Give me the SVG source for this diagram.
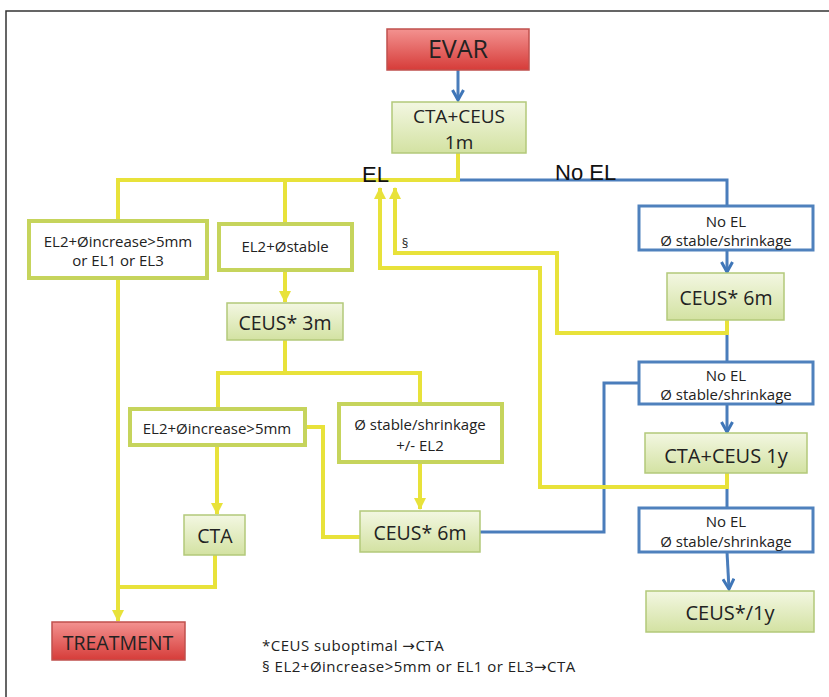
<svg xmlns="http://www.w3.org/2000/svg" width="829" height="697" viewBox="0 0 829 697">
<defs>
<linearGradient id="gGreen" x1="0" y1="0" x2="0" y2="1">
<stop offset="0" stop-color="#f3f7e2"/>
<stop offset="1" stop-color="#d3e2a2"/>
</linearGradient>
<linearGradient id="gRed" x1="0" y1="0" x2="0" y2="1">
<stop offset="0" stop-color="#f39290"/>
<stop offset="1" stop-color="#d63c39"/>
</linearGradient>
<marker id="arrY" markerUnits="userSpaceOnUse" markerWidth="14" markerHeight="14" viewBox="0 0 14 14" refX="12" refY="7" orient="auto">
<path d="M1,1 L13,7 L1,13 Z" fill="#e8e23a"/>
</marker>
<marker id="arrB" markerUnits="userSpaceOnUse" markerWidth="14" markerHeight="14" viewBox="0 0 14 14" refX="12" refY="7" orient="auto">
<path d="M2,1.5 L12,7 L2,12.5" fill="none" stroke="#3f76b8" stroke-width="3"/>
</marker>
</defs>
<style>
.frame{fill:none;stroke:#333;stroke-width:1.5}
.green{fill:url(#gGreen);stroke:#b3c97a;stroke-width:1.5}
.red{fill:url(#gRed);stroke:#c0504d;stroke-width:1.5}
.ybox{fill:#fff;stroke:#c6d45c;stroke-width:4}
.bbox{fill:#fff;stroke:#4f81bd;stroke-width:3}
.yl{fill:none;stroke:#e8e23a;stroke-width:4}
.bl{fill:none;stroke:#4a7dbb;stroke-width:3}
text{font-family:"Open Sans","Noto Sans","DejaVu Sans",sans-serif;fill:#222;text-anchor:middle}
.big{font-size:19.5px}
.sm{font-size:15px}
.lbl{font-family:"Liberation Sans",Arial,sans-serif;font-size:22px;text-anchor:start;fill:#111}
.note{font-size:15px;text-anchor:start;letter-spacing:0.5px}
</style>
<rect x="0" y="0" width="829" height="697" fill="#fff"/>
<path class="frame" d="M6,697 V11 H829"/>

<g id="connectors">
<path class="bl" d="M458,70 V100" marker-end="url(#arrB)"/>
<path class="bl" d="M458,180 H727 V206"/>
<path class="bl" d="M727,250 V272" marker-end="url(#arrB)"/>
<path class="bl" d="M727,333 V362"/>
<path class="bl" d="M727,404 V432" marker-end="url(#arrB)"/>
<path class="bl" d="M727,487 V508"/>
<path class="bl" d="M727,552 L729,589" marker-end="url(#arrB)"/>
<path class="bl" d="M480,532 H604 V383 H639"/>
<path class="yl" d="M458,153 V180 H118 V220"/>
<path class="yl" d="M285,180 V223"/>
<path class="yl" d="M285,270 V302" marker-end="url(#arrY)"/>
<path class="yl" d="M285,340 V373"/>
<path class="yl" d="M218,408 V373 H420 V404"/>
<path class="yl" d="M217,445 V514" marker-end="url(#arrY)"/>
<path class="yl" d="M305,427 H323 V537 H360"/>
<path class="yl" d="M420,462 V509" marker-end="url(#arrY)"/>
<path class="yl" d="M215,555 V587 H118"/>
<path class="yl" d="M118,278 V621" marker-end="url(#arrY)"/>
<path class="yl" d="M727,320 V333 H557 V253 H395 V188" marker-end="url(#arrY)"/>
<path class="yl" d="M727,473 V487 H540 V268 H380 V188" marker-end="url(#arrY)"/>
</g>

<g id="label-el"><text class="lbl" x="362" y="182">EL</text></g>
<g id="label-noel"><text class="lbl" x="555" y="180">No EL</text></g>
<g id="label-sect"><text x="405" y="248" style="font-size:13px">§</text></g>

<g id="evar">
<rect class="red" x="387" y="29" width="142" height="41"/>
<text x="458" y="58" style="font-size:25px">EVAR</text>
</g>
<g id="cta-ceus-1m">
<rect class="green" x="392" y="102" width="134" height="51"/>
<text x="459" y="123" style="font-size:19px">CTA+CEUS</text>
<text x="459" y="149" style="font-size:19px">1m</text>
</g>
<g id="el-increase-left">
<rect class="ybox" x="29" y="221" width="178" height="57"/>
<text class="sm" x="118" y="247">EL2+Øincrease&gt;5mm</text>
<text class="sm" x="118" y="266">or EL1 or EL3</text>
</g>
<g id="el2-stable">
<rect class="ybox" x="219" y="224" width="133" height="46"/>
<text class="sm" x="285" y="252">EL2+Østable</text>
</g>
<g id="ceus-3m">
<rect class="green" x="227" y="303" width="116" height="37"/>
<text class="big" x="285" y="330">CEUS* 3m</text>
</g>
<g id="el2-increase">
<rect class="ybox" x="130" y="409" width="175" height="36"/>
<text class="sm" x="217" y="434">EL2+Øincrease&gt;5mm</text>
</g>
<g id="stable-el2">
<rect class="ybox" x="339" y="404" width="163" height="58"/>
<text class="sm" x="420" y="430">Ø stable/shrinkage</text>
<text class="sm" x="420" y="451">+/- EL2</text>
</g>
<g id="cta">
<rect class="green" x="184" y="515" width="61" height="40"/>
<text class="big" x="215" y="543">CTA</text>
</g>
<g id="ceus-6m-mid">
<rect class="green" x="360" y="511" width="120" height="41"/>
<text class="big" x="420" y="540">CEUS* 6m</text>
</g>
<g id="treatment">
<rect class="red" x="52" y="622" width="133" height="38"/>
<text class="big" x="118" y="650">TREATMENT</text>
</g>
<g id="noel-1">
<rect class="bbox" x="639" y="206" width="174" height="44"/>
<text class="sm" x="726" y="227">No EL</text>
<text class="sm" x="726" y="246">Ø stable/shrinkage</text>
</g>
<g id="ceus-6m-right">
<rect class="green" x="667" y="273" width="117" height="47"/>
<text class="big" x="726" y="305">CEUS* 6m</text>
</g>
<g id="noel-2">
<rect class="bbox" x="639" y="362" width="174" height="42"/>
<text class="sm" x="726" y="381">No EL</text>
<text class="sm" x="726" y="400">Ø stable/shrinkage</text>
</g>
<g id="cta-ceus-1y">
<rect class="green" x="645" y="433" width="162" height="40"/>
<text x="726" y="463" style="font-size:20px">CTA+CEUS 1y</text>
</g>
<g id="noel-3">
<rect class="bbox" x="639" y="508" width="174" height="44"/>
<text class="sm" x="726" y="527">No EL</text>
<text class="sm" x="726" y="547">Ø stable/shrinkage</text>
</g>
<g id="ceus-1y">
<rect class="green" x="646" y="591" width="168" height="41"/>
<text x="730" y="620" style="font-size:20px">CEUS*/1y</text>
</g>
<g id="footnotes">
<text class="note" x="262" y="651">*CEUS suboptimal →CTA</text>
<text class="note" x="262" y="672">§ EL2+Øincrease&gt;5mm or EL1 or EL3→CTA</text>
</g>
</svg>
